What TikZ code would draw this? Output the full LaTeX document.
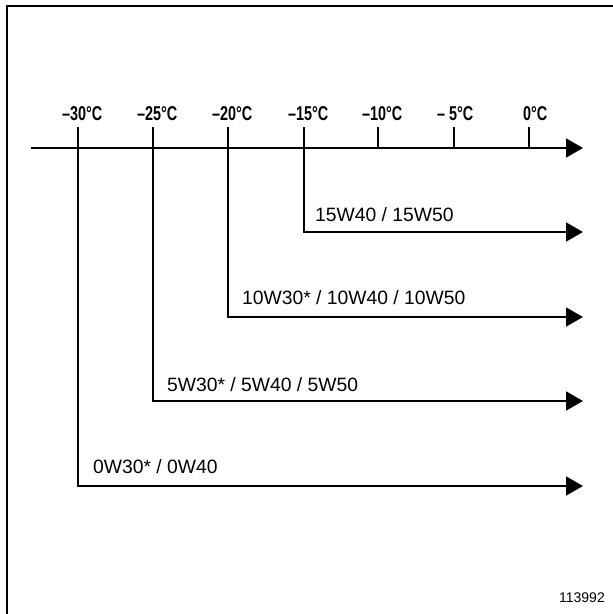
\documentclass[tikz,border=0pt]{standalone}
\usepackage{fontspec}
\setmainfont{Liberation Sans}
\newfontfamily\condfont[FakeStretch=0.72]{Liberation Sans}
\usetikzlibrary{arrows.meta}
\tikzset{
  px/.style={x=1pt,y=-1pt},
  rule/.style={line width=1.8pt, line cap=butt},
  arrowline/.style={rule, -{Triangle[length=17pt,width=19pt]}},
  templabel/.style={anchor=base west, inner sep=0pt, font=\condfont\bfseries\fontsize{20}{20}\selectfont},
  oillabel/.style={anchor=base west, inner sep=0pt, font=\fontsize{19.3}{20}\selectfont},
  figno/.style={anchor=base east, inner sep=0pt, font=\fontsize{14}{14}\selectfont},
}
\begin{document}
\begin{tikzpicture}[px]
\useasboundingbox (0,0) rectangle (613,614);
% frame (left and top edges)
\coordinate (fbl) at (7,614);
\coordinate (ftl) at (7,6);
\coordinate (ftr) at (613,6);
\draw[line width=2pt] (fbl) -- (ftl) -- (ftr);
% axis
\coordinate (axs) at (31,148);
\coordinate (axe) at (583,148);
\draw[arrowline] (axs) -- (axe);
% tick positions
\foreach \n/\x in {m30/78, m25/153, m20/228, m15/304, m10/378, m5/454, z/529}{
  \coordinate (t\n) at (\x,127);
  \coordinate (a\n) at (\x,148);
}
\draw[rule] (tm10) -- (am10);
\draw[rule] (tm5) -- (am5);
\draw[rule] (tz) -- (az);
% temperature labels
\node[templabel] (lm30) at (62,120) {–30°C};
\node[templabel] (lm25) at (137,120) {–25°C};
\node[templabel] (lm20) at (212,120) {–20°C};
\node[templabel] (lm15) at (288,120) {–15°C};
\node[templabel] (lm10) at (362,120) {–10°C};
\node[templabel] (lm5) at (437,120) {– 5°C};
\node[templabel] (lz) at (523,120) {0°C};
% oil ranges
\coordinate (c15) at (304,232);  \coordinate (e15) at (583,232);
\coordinate (c20) at (228,317);  \coordinate (e20) at (583,317);
\coordinate (c25) at (153,401);  \coordinate (e25) at (583,401);
\coordinate (c30) at (78,486);   \coordinate (e30) at (583,486);
\draw[arrowline] (tm15) -- (c15) -- (e15);
\draw[arrowline] (tm20) -- (c20) -- (e20);
\draw[arrowline] (tm25) -- (c25) -- (e25);
\draw[arrowline] (tm30) -- (c30) -- (e30);
\node[oillabel] (o15) at (315,221) {15W40 / 15W50};
\node[oillabel] (o20) at (242,304) {10W30* / 10W40 / 10W50};
\node[oillabel] (o25) at (167,391) {5W30* / 5W40 / 5W50};
\node[oillabel] (o30) at (93,473) {0W30* / 0W40};
% figure number
\node[figno] (fig) at (605,602) {113992};
\end{tikzpicture}
\end{document}
